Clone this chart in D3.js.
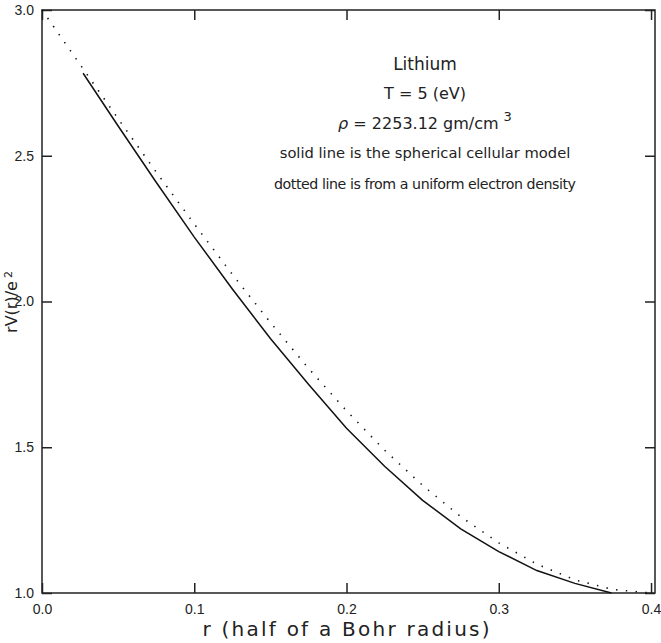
<!DOCTYPE html>
<html>
<head>
<meta charset="utf-8">
<script src="https://cdn.jsdelivr.net/npm/d3@7"></script>
<style>
  body { margin: 0; background: #fff; }
  .tick text { font-family: "Liberation Sans", Arial, sans-serif; font-size: 14px; fill: #222; }
</style>
</head>
<body>
<div id="chart"></div>
<script>
// tick values for both axes
var xTicks = [0.0, 0.1, 0.2, 0.3, 0.4];
var yTicks = [1.0, 1.5, 2.0, 2.5, 3.0];

// solid line: spherical cellular model
var cellR = [0.027, 0.05, 0.075, 0.1, 0.125, 0.15, 0.175, 0.2, 0.225, 0.25, 0.275, 0.3, 0.325, 0.35, 0.374];
var cellV = [2.783, 2.602, 2.409, 2.221, 2.043, 1.873, 1.716, 1.565, 1.435, 1.318, 1.220, 1.142, 1.077, 1.033, 1.0];

// dotted line: uniform electron density
var unifR = [0.0, 0.025, 0.05, 0.075, 0.1, 0.125, 0.15, 0.175, 0.2, 0.225, 0.25, 0.275, 0.3, 0.325, 0.35, 0.375, 0.4];
var unifV = [3.0, 2.813, 2.627, 2.444, 2.266, 2.093, 1.928, 1.771, 1.625, 1.490, 1.369, 1.262, 1.172, 1.099, 1.045, 1.012, 1.0];

// annotation lines
var notes = ["Lithium", "T = 5 (eV)", "= 2253.12 gm/cm", "solid line is the spherical cellular model", "dotted line is from a uniform electron density"];

var w = 661, h = 643;
var margin = { top: 10, right: 6, bottom: 50, left: 42 };
var width = w - margin.left - margin.right;
var height = h - margin.top - margin.bottom;

var x = d3.scaleLinear().domain([0, 0.4026]).range([0, width]);
var y = d3.scaleLinear().domain([1.0, 3.0]).range([height, 0]);

var svg = d3.select("#chart").append("svg")
    .attr("width", w)
    .attr("height", h);

var g = svg.append("g")
    .attr("transform", "translate(" + margin.left + "," + margin.top + ")");

// frame
g.append("rect")
    .attr("width", width)
    .attr("height", height)
    .attr("fill", "none")
    .attr("stroke", "#222")
    .attr("stroke-width", 1.5);

// axes with inward ticks
g.append("g")
    .attr("transform", "translate(0," + height + ")")
    .call(d3.axisBottom(x).tickValues(xTicks).tickFormat(d3.format(".1f")).tickSize(-10).tickSizeOuter(0).tickPadding(11));
g.append("g")
    .call(d3.axisTop(x).tickValues(xTicks).tickFormat("").tickSize(-10).tickSizeOuter(0));
g.append("g")
    .call(d3.axisLeft(y).tickValues(yTicks).tickFormat(d3.format(".1f")).tickSize(-10).tickSizeOuter(0).tickPadding(8));
g.append("g")
    .attr("transform", "translate(" + width + ",0)")
    .call(d3.axisRight(y).tickValues(yTicks).tickFormat("").tickSize(-10).tickSizeOuter(0));

g.selectAll(".domain").remove();
g.selectAll(".tick line").attr("stroke", "#222").attr("stroke-width", 1.5);

// curves
var line = d3.line()
    .x(function(d) { return x(d[0]); })
    .y(function(d) { return y(d[1]); });

var unif = unifR.map(function(r, i) { return [r, unifV[i]]; });
var cell = cellR.map(function(r, i) { return [r, cellV[i]]; });

g.append("path")
    .datum(unif)
    .attr("d", line)
    .attr("fill", "none")
    .attr("stroke", "#111")
    .attr("stroke-width", 1.6)
    .attr("stroke-dasharray", "1.4,8.4");

g.append("path")
    .datum(cell)
    .attr("d", line)
    .attr("fill", "none")
    .attr("stroke", "#111")
    .attr("stroke-width", 1.5);

// annotation block
var noteFont = "'DejaVu Sans', sans-serif";
var cx = 425 - margin.left;
var ann = g.append("g").attr("font-family", noteFont).attr("fill", "#222").attr("text-anchor", "middle");

ann.append("text").attr("x", cx).attr("y", 60).attr("font-size", 17).text(notes[0]);
ann.append("text").attr("x", cx).attr("y", 89).attr("font-size", 16).text(notes[1]);

var rho = ann.append("text").attr("x", cx).attr("y", 119).attr("font-size", 16);
rho.append("tspan").attr("font-style", "italic").text("\u03c1 ");
rho.append("tspan").text(notes[2]);
rho.append("tspan").attr("dx", 5).attr("dy", -8).attr("font-size", 13).text("3");

ann.append("text").attr("x", cx).attr("y", 148).attr("font-size", 14.7).text(notes[3]);
ann.append("text").attr("x", cx).attr("y", 179).attr("font-size", 14.2)
    .attr("textLength", 302).attr("lengthAdjust", "spacing").text(notes[4]);

// axis titles
svg.append("text")
    .attr("x", 346)
    .attr("y", 636)
    .attr("text-anchor", "middle")
    .attr("font-family", noteFont)
    .attr("font-size", 20)
    .attr("textLength", 287)
    .attr("lengthAdjust", "spacing")
    .attr("fill", "#222")
    .text("r (half of a Bohr radius)");

var yt = svg.append("text")
    .attr("transform", "translate(17,302) rotate(-90)")
    .attr("text-anchor", "middle")
    .attr("font-family", noteFont)
    .attr("font-size", 16)
    .attr("fill", "#222");
yt.append("tspan").text("rV(r)/e");
yt.append("tspan").attr("dx", 3).attr("dy", -5).attr("font-size", 11).text("2");
</script>
</body>
</html>
